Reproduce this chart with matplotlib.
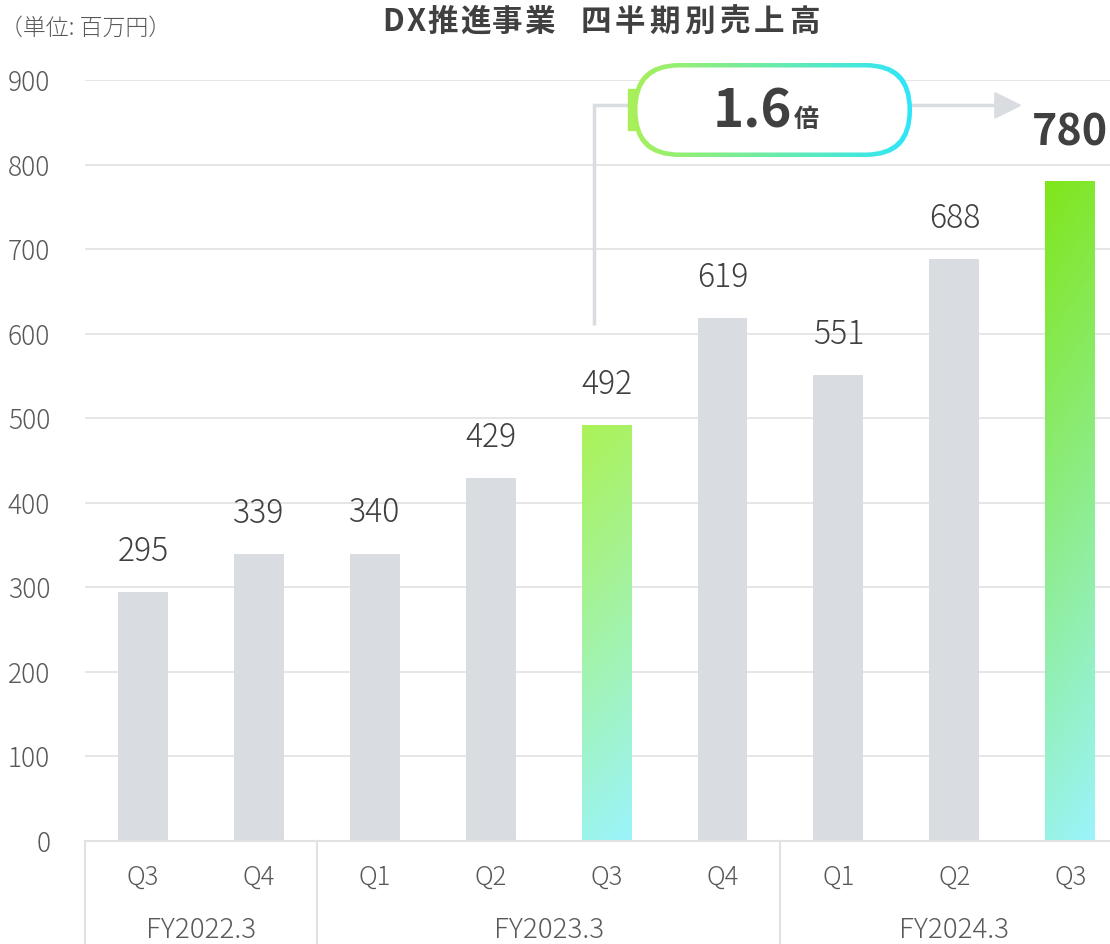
import numpy as np
import matplotlib
matplotlib.use("Agg")
import matplotlib.pyplot as plt
from matplotlib.patches import FancyBboxPatch, Rectangle, Polygon
from matplotlib.colors import LinearSegmentedColormap
import matplotlib.transforms as mtransforms

plt.rcParams['font.family'] = ['Noto Sans CJK JP', 'DejaVu Sans']

# data
quarters = ["Q3", "Q4", "Q1", "Q2", "Q3", "Q4", "Q1", "Q2", "Q3"]
values = [295, 339, 340, 429, 492, 619, 551, 688, 780]
fiscal_years = ["FY2022.3", "FY2023.3", "FY2024.3"]
fy_sizes = [2, 4, 3]
highlight = {4: ("#abf257", "#9bf4fb"), 8: ("#80e61a", "#9bf4fb")}
ratio_text = "1.6"
title_words = ["DX推進事業", "四半期別売上高"]

GRAY = "#d9dce0"
GRID = "#e2e2e2"
TXT = "#404040"
SUB = "#595959"

fig = plt.figure(figsize=(11.1, 9.44), dpi=100)
ax = fig.add_axes([85 / 1110, 103 / 944, 1 - 85 / 1110, (841 - 80) / 944])

x = np.arange(len(values))
bw = 0.43
bars = ax.bar(x, values, width=bw, color=GRAY, zorder=2)

# gradient bars
for i, (ctop, cbot) in highlight.items():
    b = bars[i]
    b.set_facecolor("none")
    cmap = LinearSegmentedColormap.from_list("g", [cbot, ctop])
    gy = np.linspace(0, 1, 200)[:, None]
    gx = np.linspace(0, 1, 20)[None, :]
    grad = gy * 0.9 + (1 - gx) * 0.1
    im = ax.imshow(grad, cmap=cmap, origin="lower", aspect="auto",
                   extent=(b.get_x(), b.get_x() + bw, 0, values[i]), zorder=2)
    im.set_clip_path(b)

ax.set_xlim(-0.5, 8.343)
ax.set_ylim(0, 900)
ax.set_yticks(range(0, 901, 100))
ax.yaxis.grid(True, color=GRID, linewidth=1.2, zorder=0)
ax.set_axisbelow(True)
for s in ax.spines.values():
    s.set_visible(False)
ax.tick_params(axis="y", length=0, pad=25, labelsize=19, labelcolor=SUB)
ax.tick_params(axis="x", length=0, labelbottom=False)
for lbl in ax.get_yticklabels():
    lbl.set_fontweight("light")

# value labels
for i, v in enumerate(values):
    if i == 8:
        ax.annotate(str(v), (i, v), xytext=(0, 35), textcoords="offset points",
                    ha="center", va="center", fontsize=31, fontweight="bold", color=TXT)
    else:
        ax.annotate(str(v), (i, v), xytext=(0, 29), textcoords="offset points",
                    ha="center", va="center", fontsize=23, fontweight="light", color=TXT)

# category axis
trans = mtransforms.blended_transform_factory(ax.transData, ax.transAxes)
ax.plot([-0.5, 8.343], [0, 0], color=GRID, lw=1.5, transform=trans, clip_on=False, zorder=3)
ax_h = 761.0
bottom = -103 / ax_h
ax.plot([-0.5, -0.5], [0, bottom], color=GRID, lw=1.5, transform=trans, clip_on=False)
start = 0
for fy, n in zip(fiscal_years, fy_sizes):
    end = start + n
    ax.plot([end - 0.5, end - 0.5], [0, bottom], color=GRID, lw=1.5,
            transform=trans, clip_on=False)
    ax.text((start + end - 1) / 2, -89 / ax_h, fy, transform=trans, ha="center",
            va="center", fontsize=20, fontweight="light", color=SUB)
    start = end
for i, q in enumerate(quarters):
    ax.text(i, -36 / ax_h, q, transform=trans, ha="center", va="center",
            fontsize=18.5, fontweight="light", color=SUB)

# connector from Q3 FY2023 bar to latest bar
conn_x = 3.89
ax.plot([conn_x, conn_x, 7.35], [610, 870, 870], color=GRAY, lw=2.5,
        clip_on=False, zorder=3, solid_capstyle="butt", solid_joinstyle="miter")
ax.add_patch(Polygon([[7.35, 885], [7.35, 855], [7.57, 870]], closed=True,
                     color=GRAY, clip_on=False, zorder=3))

# badge overlay (pixel coordinates)
ov = fig.add_axes([0, 0, 1, 1], facecolor="none")
ov.set_xlim(0, 1110)
ov.set_ylim(944, 0)
ov.axis("off")
bx, by, bwid, bht = 633, 63, 279, 94
outer = FancyBboxPatch((bx, by), bwid, bht, boxstyle="round,pad=0,rounding_size=46",
                       facecolor="none", edgecolor="none")
ov.add_patch(outer)
bcmap = LinearSegmentedColormap.from_list("b", ["#a8f05a", "#2ee6fa"])
gim = ov.imshow(np.linspace(0, 1, 256)[None, :], cmap=bcmap, aspect="auto",
                extent=(bx, bx + bwid, by + bht, by), zorder=4)
gim.set_clip_path(outer)
ov.add_patch(Rectangle((628, 89), 8, 41, color="#a8f05a", zorder=3.5))
inner = FancyBboxPatch((bx + 4.5, by + 4.5), bwid - 9, bht - 9,
                       boxstyle="round,pad=0,rounding_size=42",
                       facecolor="white", edgecolor="none", zorder=5)
ov.add_patch(inner)
ov.text(792, 127, ratio_text, ha="right", va="baseline", fontsize=38,
        fontweight="bold", color=TXT, zorder=6)
ov.text(794, 127, "倍", ha="left", va="baseline", fontsize=18,
        fontweight="bold", color=TXT, zorder=6)

# title with letter spacing, drawn character by character
def spaced(x0, y, s, pitch_cjk, pitch_lat, size):
    cx = x0
    for ch in s:
        p = pitch_lat if ord(ch) < 256 else pitch_cjk
        ov.text(cx + p / 2, y, ch, ha="center", va="center", fontsize=size,
                fontweight="bold", color=TXT)
        cx += p

spaced(382, 22, title_words[0], 32, 22.5, 22)
spaced(578, 22, title_words[1], 34.8, 22, 22)

ov.text(0, 28, "（単位: 百万円）", ha="left", va="center", fontsize=16.5,
        fontweight="light", color=SUB)

fig.savefig("out.png", dpi=100)
